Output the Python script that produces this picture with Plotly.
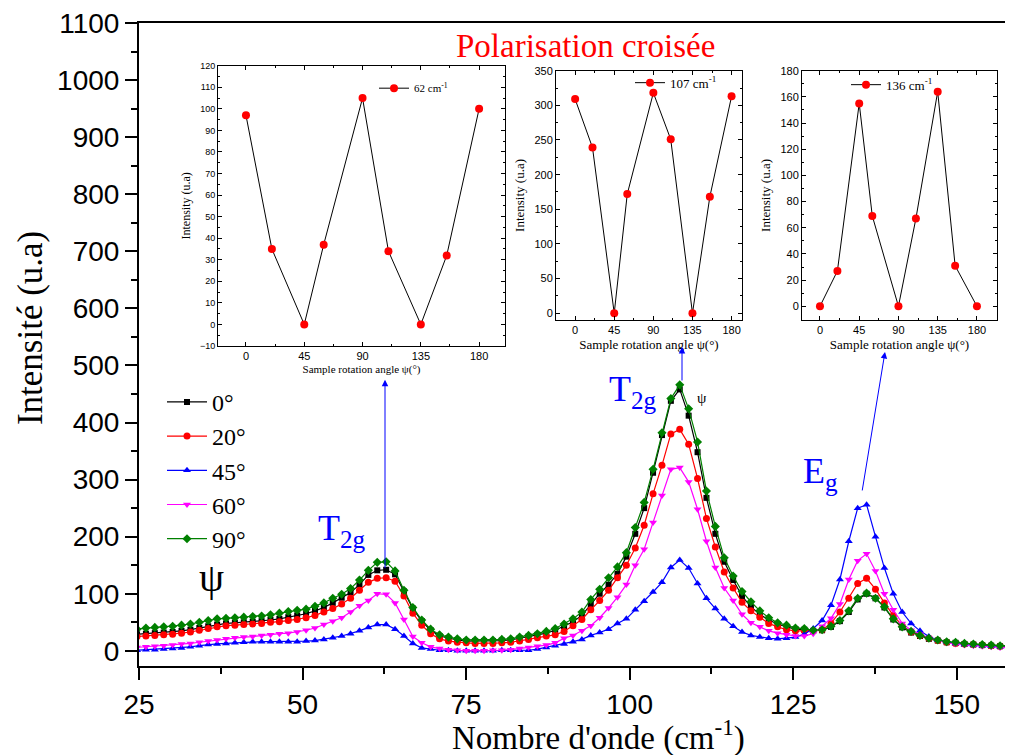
import plotly.graph_objects as go

# ---------------- data ----------------
wavenumber = [24.70, 26.06, 27.42, 28.78, 30.14, 31.50, 32.86, 34.22, 35.58, 36.94,
              38.30, 39.66, 41.02, 42.38, 43.74, 45.10, 46.46, 47.82, 49.18, 50.54,
              51.90, 53.26, 54.62, 55.98, 57.34, 58.70, 60.06, 61.42, 62.78, 64.14,
              65.50, 66.86, 68.22, 69.58, 70.94, 72.30, 73.66, 75.02, 76.38, 77.74,
              79.10, 80.46, 81.82, 83.18, 84.54, 85.90, 87.26, 88.62, 89.98, 91.34,
              92.70, 94.06, 95.42, 96.78, 98.14, 99.50, 100.86, 102.22, 103.58, 104.94,
              106.30, 107.66, 109.02, 110.38, 111.74, 113.10, 114.46, 115.82, 117.18, 118.54,
              119.90, 121.26, 122.62, 123.98, 125.34, 126.70, 128.06, 129.42, 130.78, 132.14,
              133.50, 134.86, 136.22, 137.58, 138.94, 140.30, 141.66, 143.02, 144.38, 145.74,
              147.10, 148.46, 149.82, 151.18, 152.54, 153.90, 155.26, 156.62, 157.98, 159.34]

int_0deg = [29, 30, 31, 32, 33, 35, 37, 40, 43, 46,
            48, 49, 50, 51, 52, 54, 56, 59, 62, 65,
            70, 76, 84, 93, 102, 116, 133, 141, 142, 134,
            104, 74, 52, 36, 26, 22, 19, 17, 17, 17,
            17, 18, 19, 22, 25, 28, 31, 36, 43, 51,
            62, 82, 100, 116, 135, 165, 205, 250, 312, 378,
            438, 458, 412, 348, 268, 205, 156, 124, 96, 77,
            64, 54, 47, 42, 38, 37, 35, 36, 42, 52,
            68, 90, 100, 92, 76, 55, 41, 32, 26, 21,
            18, 15, 14, 12, 11, 10, 9, 8, 7, 7]

int_20deg = [25, 26, 27, 28, 29, 31, 33, 36, 39, 42,
             44, 45, 46, 47, 48, 50, 51, 53, 55, 58,
             62, 68, 74, 82, 92, 106, 120, 127, 128, 122,
             96, 66, 45, 30, 21, 17, 15, 14, 13, 13,
             13, 14, 15, 17, 20, 23, 26, 28, 34, 44,
             55, 72, 88, 106, 128, 150, 180, 220, 275, 325,
             380, 388, 362, 302, 232, 182, 138, 110, 85, 70,
             59, 48, 42, 37, 35, 35, 35, 37, 48, 68,
             92, 118, 127, 108, 84, 62, 44, 33, 27, 22,
             18, 15, 13, 12, 11, 10, 9, 8, 7, 6]

int_45deg = [1, 2, 2, 3, 4, 5, 7, 9, 11, 12,
             13, 14, 15, 16, 16, 16, 16, 16, 16, 17,
             18, 20, 23, 26, 30, 35, 41, 46, 46, 38,
             26, 13, 5, 3, 1, 1, 0, 0, 0, 0,
             0, 1, 1, 1, 1, 3, 6, 9, 12, 16,
             20, 27, 32, 38, 48, 56, 72, 87, 103, 120,
             146, 159, 145, 118, 92, 74, 56, 43, 33, 27,
             24, 22, 21, 22, 24, 29, 39, 53, 80, 125,
             192, 250, 256, 200, 145, 100, 68, 48, 35, 25,
             19, 16, 13, 11, 10, 9, 8, 7, 6, 5]

int_60deg = [6, 7, 8, 9, 10, 12, 13, 15, 17, 19,
             21, 23, 24, 25, 27, 28, 30, 31, 33, 36,
             40, 46, 52, 58, 68, 79, 88, 100, 99, 84,
             55, 25, 14, 7, 4, 2, 1, 0, 0, 0,
             1, 1, 2, 4, 6, 8, 10, 14, 22, 27,
             35, 44, 58, 75, 94, 116, 150, 178, 225, 272,
             318, 321, 296, 248, 192, 146, 110, 88, 64, 49,
             42, 35, 31, 28, 26, 26, 30, 43, 57, 82,
             125, 158, 170, 140, 100, 72, 48, 36, 29, 23,
             18, 14, 12, 10, 9, 8, 7, 6, 5, 4]

int_90deg = [38, 40, 41, 42, 43, 45, 47, 50, 53, 56,
             57, 58, 59, 60, 61, 63, 66, 69, 71, 73,
             78, 84, 92, 99, 109, 124, 141, 155, 156, 140,
             106, 76, 54, 38, 28, 24, 21, 19, 19, 19,
             19, 20, 21, 24, 27, 30, 34, 39, 47, 56,
             68, 90, 108, 128, 147, 172, 216, 260, 318, 382,
             442, 466, 424, 366, 280, 218, 163, 131, 104, 86,
             70, 58, 49, 45, 40, 39, 36, 37, 43, 53,
             70, 92, 101, 92, 77, 56, 42, 34, 27, 22,
             19, 16, 15, 13, 12, 11, 10, 9, 8, 8]

series_names = ["0°", "20°", "45°", "60°", "90°"]

rotation_angle = [0, 20, 45, 60, 90, 110, 135, 155, 180]
int_62 = [97, 35, 0, 37, 105, 34, 0, 32, 100]
int_107 = [309, 239, 0, 172, 318, 251, 0, 168, 313]
int_136 = [0, 27, 155, 69, 0, 67, 164, 31, 0]
angle_ticks = [0, 45, 90, 135, 180]

# ---------------- geometry (page has an 8px body margin) ----------------
OFF = 8
W, H = 1005, 747
ML, MT = 139 - OFF, 19 - OFF
MR = 0
MB = H - (666 - OFF)
PW, PH = W - ML - MR, H - MT - MB


def px_x(x):
    return (x - OFF - ML) / PW


def px_y(y):
    return (H - MB - (y - OFF)) / PH


SERIF = "Liberation Serif"
SANS = "Liberation Sans"

styles = [
    dict(color="#000000", symbol="square", size=6),
    dict(color="#FF0000", symbol="circle", size=7),
    dict(color="#0000FF", symbol="triangle-up", size=7),
    dict(color="#FF00FF", symbol="triangle-down", size=7),
    dict(color="#008000", symbol="diamond", size=7),
]
series = [int_0deg, int_20deg, int_45deg, int_60deg, int_90deg]

fig = go.Figure()
for name, vals, st in zip(series_names, series, styles):
    fig.add_trace(go.Scatter(
        x=wavenumber, y=vals, mode="lines+markers", name=name,
        line=dict(color=st["color"], width=1.2),
        marker=dict(color=st["color"], symbol=st["symbol"], size=st["size"]),
        xaxis="x", yaxis="y", legend="legend",
    ))

insets = [
    ("x2", "y2", int_62, "62 cm<sup>-1</sup>", "legend2"),
    ("x3", "y3", int_107, "107 cm<sup>-1</sup>", "legend3"),
    ("x4", "y4", int_136, "136 cm<sup>-1</sup>", "legend4"),
]
for xa, ya, vals, lab, lg in insets:
    fig.add_trace(go.Scatter(
        x=rotation_angle, y=vals, mode="lines+markers", name=lab,
        line=dict(color="black", width=1),
        marker=dict(color="#FF0000", symbol="circle", size=8),
        xaxis=xa, yaxis=ya, legend=lg,
    ))

main_axis = dict(showline=True, linecolor="black", linewidth=2, ticks="outside",
                 ticklen=12, tickwidth=2, tickcolor="black", showgrid=False, zeroline=False,
                 ticklabeloverflow="allow",
                 tickfont=dict(family=SANS, size=28, color="black"))

fig.update_layout(
    width=W, height=H,
    margin=dict(l=ML, r=MR, t=MT, b=MB, pad=0),
    paper_bgcolor="white", plot_bgcolor="white",
    xaxis=dict(main_axis, domain=[0, 1], range=[25, 158.6], tick0=25, dtick=25,
               mirror=True, anchor="y",
               minor=dict(dtick=12.5, ticks="outside", ticklen=6, tickwidth=2, tickcolor="black")),
    yaxis=dict(main_axis, domain=[0, 1], range=[-26.6, 1100], tick0=0, dtick=100, anchor="x",
               minor=dict(dtick=50, ticks="outside", ticklen=6, tickwidth=2, tickcolor="black")),
    legend=dict(x=px_x(162), y=px_y(378), xanchor="left", yanchor="top",
                bgcolor="rgba(0,0,0,0)", font=dict(family=SERIF, size=24, color="black"),
                tracegroupgap=0, itemwidth=40),
    showlegend=True,
)

inset_specs = [
    ("xaxis2", "yaxis2", "x2", "y2", (218, 505), (62, 344), [-21.6, 200], [-10, 120], 10, 9, 11, 11, 12, "legend2", (374, 70)),
    ("xaxis3", "yaxis3", "x3", "y3", (556, 742), (67, 318), [-22, 192], [-10, 350], 50, 11, 11, 13, 13, "legend3", (630, 64)),
    ("xaxis4", "yaxis4", "x4", "y4", (802, 997), (67, 318), [-20.6, 203], [-10.6, 180], 20, 11, 11, 13, 13, "legend4", (846, 66)),
]
for (xk, yk, xn, yn, xpx, ypx, xr, yr, dt, yfs, xfs, xtfs, ytfs, lg, lgpos) in inset_specs:
    common = dict(showline=True, linecolor="black", linewidth=1, mirror="ticks",
                  ticks="inside", ticklen=4, tickwidth=1, tickcolor="black",
                  showgrid=False, zeroline=False)
    fig.update_layout(**{
        xk: dict(common, domain=[px_x(xpx[0]), px_x(xpx[1])], range=xr,
                 tickvals=angle_ticks, anchor=yn,
                 tickfont=dict(family=SANS, size=xfs, color="black"),
                 minor=dict(tickvals=[22.5, 67.5, 112.5, 157.5], ticks="inside", ticklen=2,
                            tickcolor="black"),
                 title=dict(text="Sample rotation angle ψ(°)", standoff=4,
                            font=dict(family=SERIF, size=xtfs, color="black"))),
        yk: dict(common, domain=[px_y(ypx[1]), px_y(ypx[0])], range=yr, tick0=0, dtick=dt,
                 anchor=xn,
                 tickfont=dict(family=SANS, size=yfs, color="black"),
                 minor=dict(dtick=dt / 2, ticks="inside", ticklen=2, tickcolor="black"),
                 title=dict(text="Intensity (u.a)", standoff=6,
                            font=dict(family=SERIF, size=ytfs, color="black"))),
        lg: dict(x=px_x(lgpos[0]), y=px_y(lgpos[1]), xanchor="left", yanchor="top",
                 bgcolor="rgba(0,0,0,0)", font=dict(family=SERIF, size=xtfs, color="black"),
                 itemwidth=30),
    })

annos = [
    dict(text="Polarisation croisée", x=px_x(585), y=px_y(42), font=dict(family=SERIF, size=33, color="#FF0000")),
    dict(text="T<sub>2g</sub>", x=px_x(342), y=px_y(530), font=dict(family=SERIF, size=36, color="#0000FF")),
    dict(text="T<sub>2g</sub>", x=px_x(633), y=px_y(390), font=dict(family=SERIF, size=36, color="#0000FF")),
    dict(text="E<sub>g</sub>", x=px_x(820), y=px_y(472), font=dict(family=SERIF, size=36, color="#0000FF")),
    dict(text="ψ", x=px_x(211), y=px_y(577), font=dict(family=SERIF, size=40, color="black")),
    dict(text="ψ", x=px_x(702), y=px_y(396), font=dict(family=SERIF, size=15, color="black")),
    dict(text="Nombre d'onde (cm<sup>-1</sup>)", x=px_x(598), y=px_y(736), font=dict(family=SERIF, size=33, color="black")),
    dict(text="Intensité (u.a)", x=px_x(30), y=px_y(326), textangle=-90, font=dict(family=SERIF, size=35, color="black")),
]
for a in annos:
    a.update(xref="paper", yref="paper", showarrow=False, xanchor="center", yanchor="middle")
    fig.add_annotation(**a)

arrows = [((385, 378), (385, 568)), ((682, 345), (682, 380)), ((885, 350), (862, 490))]
for (hx, hy), (tx, ty) in arrows:
    fig.add_annotation(x=px_x(hx), y=px_y(hy), xref="paper", yref="paper", text="",
                       showarrow=True, ax=tx - hx, ay=ty - hy, arrowcolor="#0000FF",
                       arrowwidth=1, arrowhead=2, arrowsize=1.3)

fig.write_html("out.html")
